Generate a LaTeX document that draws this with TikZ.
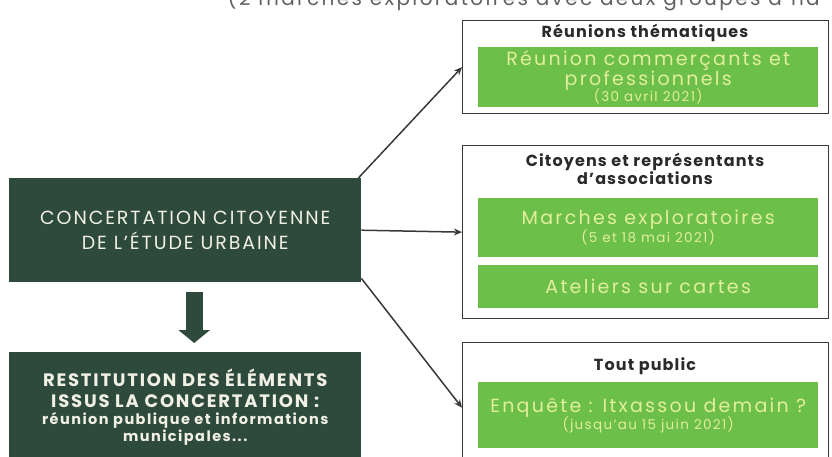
\documentclass[tikz,border=0pt]{standalone}
\usepackage{fontspec}
\setmainfont{Poppins}
\usetikzlibrary{arrows.meta,positioning,calc}
\definecolor{Forest}{HTML}{2E4A3D}
\definecolor{Leaf}{HTML}{6CBF49}
\definecolor{Cream}{HTML}{F0F0E4}
\definecolor{Lime}{HTML}{E2EE9C}
\definecolor{Frame}{HTML}{383838}
\definecolor{Ink}{HTML}{2A2A2A}
\tikzset{
  darkbox/.style={fill=Forest,text=Cream,anchor=north west,minimum width=352pt,align=center,inner sep=0pt},
  group/.style={draw=Frame,line width=1.3pt,anchor=north west,minimum width=366pt,inner sep=0pt},
  head/.style={text=Ink,anchor=base,align=center,font=\fontsize{16}{17}\selectfont\bfseries\addfontfeatures{LetterSpace=7}},
  leafbox/.style={fill=Leaf,text=Lime,anchor=north west,minimum width=340pt,align=center,inner sep=0pt,font=\fontsize{19}{20}\selectfont\addfontfeatures{LetterSpace=12}},
  link/.style={-{Stealth[length=8pt,width=7pt]},draw=Frame,line width=1.5pt},
  down/.style={-{Triangle[length=13pt,width=31pt]},draw=Forest,line width=17pt},
  pagetext/.style={text=Frame!80,font=\fontsize{20}{20}\selectfont\addfontfeatures{LetterSpace=12}},
}
\newcommand{\smallline}{\fontsize{13.5}{15}\selectfont\addfontfeatures{LetterSpace=10}}

\begin{document}
\begin{tikzpicture}[x=1pt,y=-1pt]
  \useasboundingbox (0,0) rectangle (832,457);
  \clip (0,0) rectangle (832,457);
  % end of the page text above
  \node[pagetext,anchor=base west] (pageline) at (224,6) {(2 marches exploratoires avec deux groupes d'ha};
  % left column
  \node[darkbox,minimum height=104pt,font=\fontsize{19}{25}\selectfont\addfontfeatures{LetterSpace=10}] (concert) at (9,178) {CONCERTATION CITOYENNE\\DE L'ÉTUDE URBAINE};
  \node[darkbox,minimum height=110pt,font=\fontsize{18}{21}\selectfont\bfseries\addfontfeatures{LetterSpace=10}] (restit) at (9,352)
    {RESTITUTION DES ÉLÉMENTS\\ISSUS LA CONCERTATION :\\[-4pt]{\fontsize{14.5}{16}\selectfont réunion publique et informations}\\[-4pt]{\fontsize{14.5}{16}\selectfont municipales...}};
  \draw[down] ([xshift=9pt,yshift=-10pt]concert.south) -- ([xshift=9pt,yshift=9pt]restit.north);
  % right column
  \node[group,minimum height=93pt] (groupA) at (462,20) {};
  \node[head] (headA) at (645,38) {Réunions thématiques};
  \node[leafbox,minimum height=60pt] (meeting) at (478,47)
    {Réunion commerçants et\\professionnels\\[-4pt]{\smallline(30 avril 2021)}};
  \node[group,minimum height=173pt] (groupB) at (462,145) {};
  \node[head] (headB) at (645,185) {Citoyens et représentants\\d'associations};
  \node[leafbox,minimum height=59pt] (walks) at (478,198)
    {Marches exploratoires\\[-2pt]{\smallline(5 et 18 mai 2021)}};
  \node[leafbox,minimum height=43pt] (maps) at (478,265) {Ateliers sur cartes};
  \node[group,minimum height=130pt] (groupC) at (462,342) {};
  \node[head] (headC) at (645,370) {Tout public};
  \node[leafbox,minimum height=66pt] (survey) at (478,382)
    {Enquête : Itxassou demain ?\\[-3pt]{\smallline(jusqu'au 15 juin 2021)}};
  % connectors
  \draw[link] ([xshift=-3pt]concert.north east) -- (groupA.west);
  \draw[link] (concert.east) -- (groupB.west);
  \draw[link] ([yshift=4pt]concert.south east) -- (groupC.west);
\end{tikzpicture}
\end{document}
